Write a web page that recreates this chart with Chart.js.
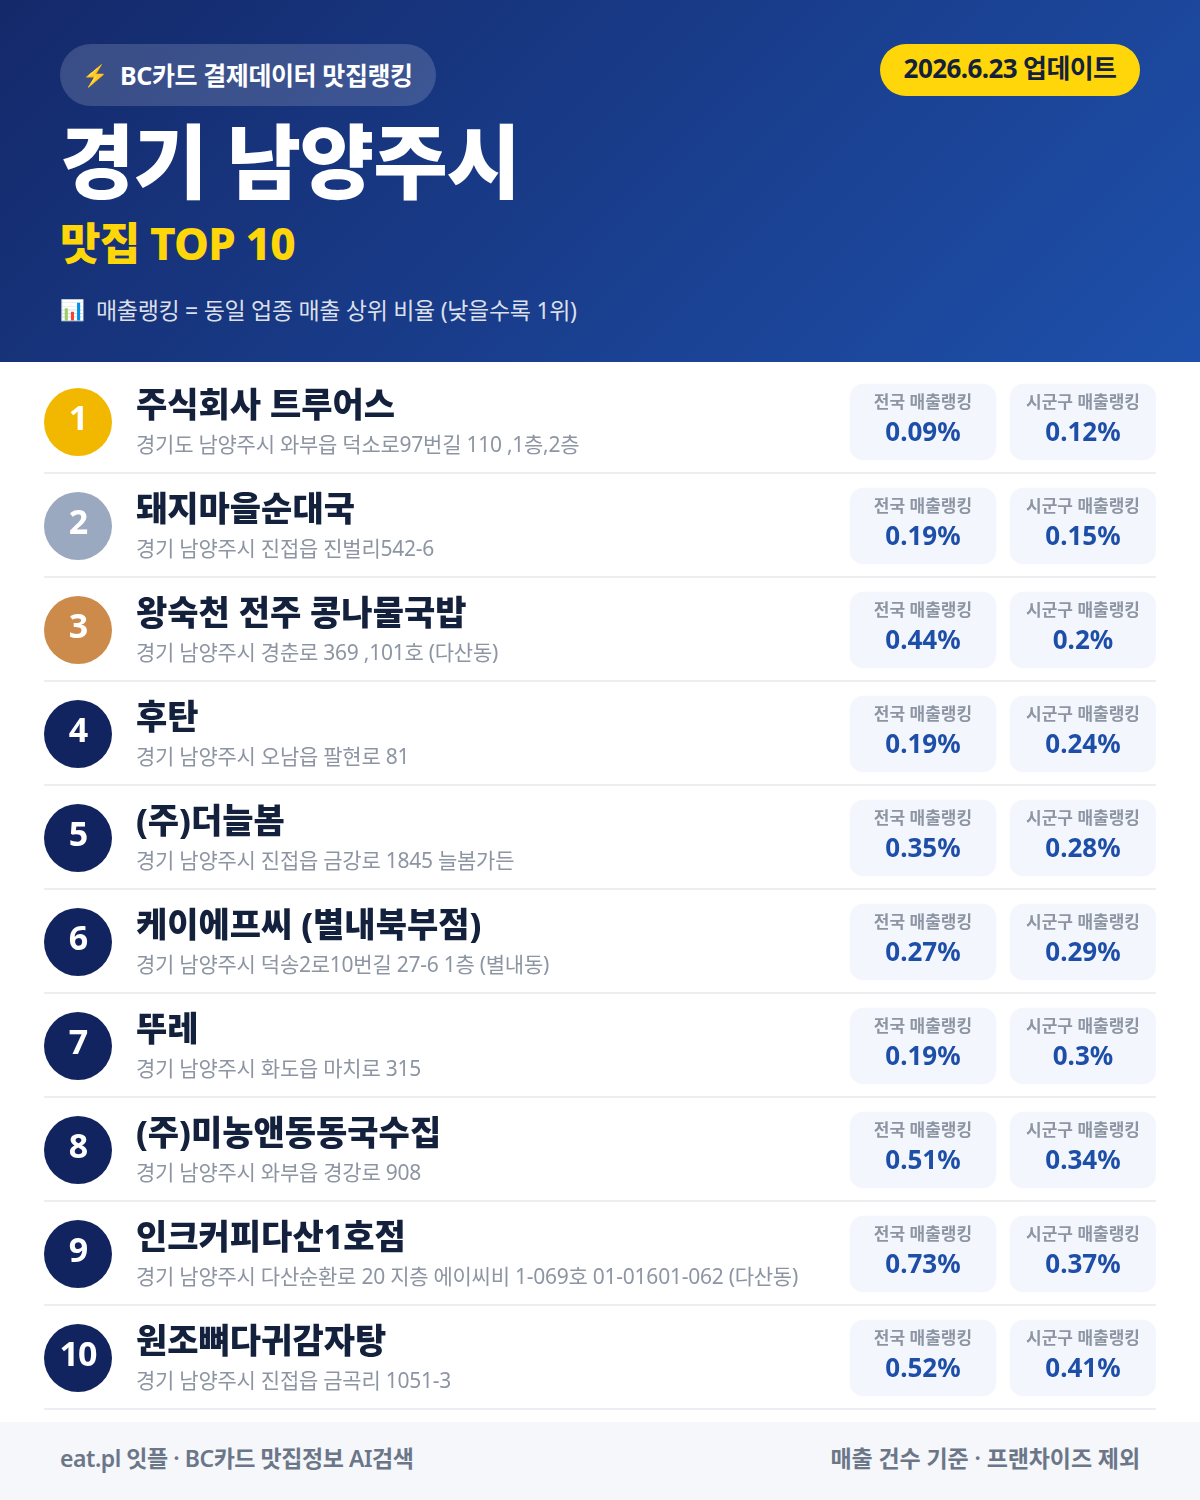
<!DOCTYPE html>
<html lang="ko">
<head>
<meta charset="utf-8">
<title>경기 남양주시 맛집 TOP 10</title>
<script src="https://cdn.jsdelivr.net/npm/chart.js@4"></script>
<style>
    * { box-sizing: border-box; }
    html, body { margin: 0; background: #fff; font-family: "Noto Sans", "Noto Sans CJK KR", sans-serif; }
    .page { position: relative; width: 1200px; height: 1500px; overflow: hidden; }
    .head { position: absolute; left: 0; top: 0; width: 1200px; height: 362px; background: linear-gradient(135deg, #14296a 0%, #1e50ab 100%); }
    .head div { position: absolute; white-space: nowrap; }
    .badge { left: 60px; top: 44px; width: 376px; height: 62px; border-radius: 31px; background: rgba(255,255,255,.16); }
    .badge-text { left: 120px; top: 44px; height: 62px; line-height: 62px; font-size: 25px; font-weight: 700; color: #fff; letter-spacing: -0.4px; }
    .icon1 { left: 82px; top: 44px; height: 62px; line-height: 62px; font-size: 21px; }
    .date { left: 880px; top: 44px; width: 260px; height: 52px; border-radius: 26px; background: #ffd60a; color: #14213d; text-align: center; line-height: 49px; font-size: 26px; font-weight: 700; letter-spacing: -0.6px; }
    .title { left: 60px; top: 99px; font-size: 81px; line-height: 124px; font-weight: 900; color: #fff; letter-spacing: -1.2px; }
    .sub { left: 60px; top: 212px; font-size: 44px; line-height: 62px; font-weight: 800; color: #ffd60a; letter-spacing: -0.8px; }
    .note { left: 96px; top: 292px; font-size: 23px; line-height: 36px; color: rgba(255,255,255,.85); letter-spacing: -0.3px; }
    .icon2 { left: 60px; top: 292px; font-size: 20px; line-height: 36px; }
    .list { position: absolute; left: 0; top: 362px; width: 1200px; height: 1060px; }
    .foot { position: absolute; left: 0; top: 1422px; width: 1200px; height: 78px; background: #f5f7fb; color: #6b7688; font-size: 23px; font-weight: 600; line-height: 72px; }
    .foot span { position: absolute; }
    .foot .l { left: 60px; letter-spacing: -0.45px; }
    .foot .r { right: 60px; letter-spacing: -0.1px; }
</style>
</head>
<body>
<div class="page">
    <div class="head">
        <div class="badge"></div>
        <div class="icon1">⚡</div>
        <div class="badge-text">BC카드 결제데이터 맛집랭킹</div>
        <div class="date">2026.6.23 업데이트</div>
        <div class="title">경기 남양주시</div>
        <div class="sub">맛집 TOP 10</div>
        <div class="icon2">📊</div>
        <div class="note">매출랭킹 = 동일 업종 매출 상위 비율 (낮을수록 1위)</div>
    </div>
    <div class="list"><canvas id="myChart" width="1200" height="1060"></canvas></div>
    <div class="foot">
        <span class="l">eat.pl 잇플 · BC카드 맛집정보 AI검색</span>
        <span class="r">매출 건수 기준 · 프랜차이즈 제외</span>
    </div>
</div>
<script>
const ranks = ["1","2","3","4","5","6","7","8","9","10"];
const names = ["주식회사 트루어스","돼지마을순대국","왕숙천 전주 콩나물국밥","후탄","(주)더늘봄","케이에프씨 (별내북부점)","뚜레","(주)미농앤동동국수집","인크커피다산1호점","원조뼈다귀감자탕"];
const addresses = [
    "경기도 남양주시 와부읍 덕소로97번길 110 ,1층,2층",
    "경기 남양주시 진접읍 진벌리542-6",
    "경기 남양주시 경춘로 369 ,101호 (다산동)",
    "경기 남양주시 오남읍 팔현로 81",
    "경기 남양주시 진접읍 금강로 1845 늘봄가든",
    "경기 남양주시 덕송2로10번길 27-6 1층 (별내동)",
    "경기 남양주시 화도읍 마치로 315",
    "경기 남양주시 와부읍 경강로 908",
    "경기 남양주시 다산순환로 20 지층 에이씨비 1-069호 01-01601-062 (다산동)",
    "경기 남양주시 진접읍 금곡리 1051-3"
];
const nationalRank = [0.09,0.19,0.44,0.19,0.35,0.27,0.19,0.51,0.73,0.52];
const districtRank = [0.12,0.15,0.2,0.24,0.28,0.29,0.3,0.34,0.37,0.41];
const nationalLabel = "전국 매출랭킹";
const districtLabel = "시군구 매출랭킹";

const font = '"Noto Sans", "Noto Sans CJK KR", sans-serif';
const rankColors = ranks.map((r, i) => ["#f2b800","#9aa8c0","#cc8b4a"][i] || "#12245f");

// writes the row texts on top of the marks
const rowText = {
    id: "rowText",
    beforeDatasetsDraw(chart) {
        const { ctx, scales: { x, y } } = chart;
        ctx.save();
        ctx.strokeStyle = "#eceef1";
        ctx.lineWidth = 2;
        ranks.forEach(r => {
            const py = y.getPixelForValue(r) + 51;
            ctx.beginPath();
            ctx.moveTo(x.left, py);
            ctx.lineTo(x.right, py);
            ctx.stroke();
        });
        ctx.restore();
    },
    afterDatasetsDraw(chart) {
        const { ctx, scales: { y } } = chart;
        const cards = chart.getDatasetMeta(0).data;
        const cards2 = chart.getDatasetMeta(1).data;
        const dots = chart.getDatasetMeta(2).data;
        ctx.save();
        ctx.textBaseline = "middle";
        ranks.forEach((r, i) => {
            const py = y.getPixelForValue(r);

            ctx.textAlign = "center";
            ctx.fillStyle = "#fff";
            ctx.letterSpacing = "-1px";
            ctx.font = `700 34px ${font}`;
            ctx.fillText(r, dots[i].x, py - 2);

            ctx.textAlign = "left";
            ctx.fillStyle = "#14213d";
            ctx.letterSpacing = "0px";
            ctx.font = `800 34px ${font}`;
            ctx.fillText(names[i], 136, py - 15);

            ctx.fillStyle = "#8d95a3";
            ctx.letterSpacing = "-0.25px";
            ctx.font = `400 21px ${font}`;
            ctx.fillText(addresses[i], 136, py + 24);

            ctx.letterSpacing = "0px";
            [[cards[i], nationalLabel, nationalRank[i]], [cards2[i], districtLabel, districtRank[i]]].forEach(([bar, label, val]) => {
                const cx = (bar.x + bar.base) / 2;
                ctx.textAlign = "center";
                ctx.fillStyle = "#8d95a3";
                ctx.font = `700 17px ${font}`;
                ctx.fillText(label, cx, py - 19);
                ctx.fillStyle = "#1e4fa8";
                ctx.font = `700 26px ${font}`;
                ctx.fillText(val + "%", cx, py + 12);
            });
        });
        ctx.restore();
    }
};

new Chart("myChart", {
    type: "bar",
    data: {
        labels: ranks,
        datasets: [{
            data: ranks.map(() => [850, 996]),
            backgroundColor: "#f3f6fd",
            borderRadius: 14,
            borderSkipped: false,
            barThickness: 76,
            grouped: false
        },{
            data: ranks.map(() => [1010, 1156]),
            backgroundColor: "#f3f6fd",
            borderRadius: 14,
            borderSkipped: false,
            barThickness: 76,
            grouped: false
        },{
            type: "scatter",
            data: ranks.map(r => ({ x: 78, y: r })),
            pointRadius: 34,
            pointHoverRadius: 34,
            pointBorderWidth: 0,
            pointBackgroundColor: rankColors
        }]
    },
    options: {
        indexAxis: "y",
        responsive: false,
        animation: false,
        events: [],
        layout: { autoPadding: false, padding: { left: 44, right: 44, top: 8, bottom: 12 } },
        plugins: { legend: { display: false }, tooltip: { enabled: false } },
        scales: {
            x: { type: "linear", min: 44, max: 1156, display: false },
            y: { type: "category", labels: ranks, offset: true, display: false }
        }
    },
    plugins: [rowText]
});
</script>
</body>
</html>
